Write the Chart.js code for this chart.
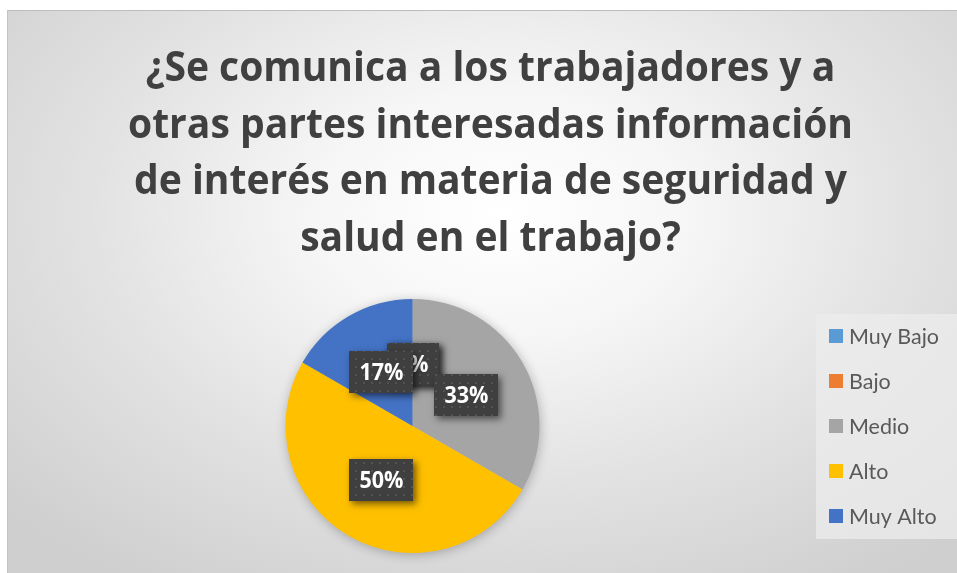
<!DOCTYPE html>
<html>
<head>
<meta charset="utf-8">
<script src="https://cdn.jsdelivr.net/npm/chart.js@4/dist/chart.umd.min.js"></script>
<style>
  html, body { margin: 0; padding: 0; background: #ffffff; width: 957px; height: 573px; overflow: hidden; }
  #frame {
    position: absolute; left: 7px; top: 10px; width: 950px; height: 563px;
    border-left: 1px solid #c4c4c4; border-top: 1px solid #bdbdbd; box-sizing: border-box;
    background: radial-gradient(ellipse 70% 78% at 52% 36%, #ffffff 0%, #f6f6f6 28%, #e2e2e2 62%, #cfcfcf 100%);
  }
  canvas { position: absolute; left: 0; top: 0; }
</style>
</head>
<body>
<div id="frame"><canvas id="c" width="950" height="563"></canvas></div>
<script>
const categories = ['Muy Bajo', 'Bajo', 'Medio', 'Alto', 'Muy Alto'];
const values = [0, 0, 2, 3, 1];
const sliceColors = ['#5B9BD5', '#ED7D31', '#A5A5A5', '#FFC000', '#4472C4'];
const titleLines = [
  '¿Se comunica a los trabajadores y a',
  'otras partes interesadas información',
  'de interés en materia de seguridad y',
  'salud en el trabajo?'
];

const BOLD_FAMILY = '"Open Sans", Lato, "Noto Sans", sans-serif';
const REG_FAMILY = 'Lato, "Open Sans", "Noto Sans", sans-serif';

function drawScaledText(ctx, text, x, y, sx, align) {
  ctx.save();
  ctx.translate(x, y);
  ctx.scale(sx, 1);
  ctx.textAlign = align;
  ctx.fillText(text, 0, 0);
  ctx.restore();
}

function makeDotPattern(ctx) {
  const p = document.createElement('canvas');
  p.width = 8; p.height = 8;
  const g = p.getContext('2d');
  g.fillStyle = '#3f3f3f';
  g.fillRect(0, 0, 8, 8);
  g.fillStyle = '#525252';
  g.fillRect(3, 3, 2, 2);
  return ctx.createPattern(p, 'repeat');
}

const titlePlugin = {
  id: 'titleDraw',
  afterDraw(chart) {
    const ctx = chart.ctx;
    ctx.save();
    ctx.fillStyle = '#404040';
    ctx.font = 'bold 42px ' + BOLD_FAMILY;
    ctx.textBaseline = 'alphabetic';
    const ref = ctx.measureText(titleLines[1]).width;
    const sx = 725 / ref;
    const baselines = [70, 127, 183, 240];
    titleLines.forEach((line, i) => drawScaledText(ctx, line, 482.5, baselines[i], sx, 'center'));
    ctx.restore();
  }
};

const pieShadow = {
  id: 'pieShadow',
  beforeDatasetsDraw(chart) {
    const arc = chart.getDatasetMeta(0).data[0];
    if (!arc) return;
    const ctx = chart.ctx;
    ctx.save();
    ctx.shadowColor = 'rgba(0,0,0,0.28)';
    ctx.shadowBlur = 12;
    ctx.shadowOffsetX = 1;
    ctx.shadowOffsetY = 2;
    ctx.fillStyle = '#bdbdbd';
    ctx.beginPath();
    ctx.arc(arc.x, arc.y, arc.outerRadius - 0.5, 0, Math.PI * 2);
    ctx.fill();
    ctx.restore();
  }
};

const labelPlugin = {
  id: 'boxLabels',
  afterDatasetsDraw(chart) {
    const ctx = chart.ctx;
    const meta = chart.getDatasetMeta(0);
    const data = chart.data.datasets[0].data;
    const total = data.reduce((a, b) => a + b, 0);
    const pattern = makeDotPattern(ctx);
    ctx.save();
    ctx.font = 'bold 24px ' + BOLD_FAMILY;
    const sx = 44 / ctx.measureText('17%').width;
    meta.data.forEach((arc, i) => {
      const txt = Math.round(data[i] / total * 100) + '%';
      const mid = (arc.startAngle + arc.endAngle) / 2;
      const rr = arc.outerRadius * 0.49;
      const cx = arc.x + Math.cos(mid) * rr;
      const cy = arc.y + Math.sin(mid) * rr;
      const tw = ctx.measureText(txt).width * sx;
      const w = Math.round(tw + 20);
      const h = 42;
      const bx = Math.round(cx - w / 2), by = Math.round(cy - h / 2);
      ctx.save();
      ctx.shadowColor = 'rgba(0,0,0,0.55)';
      ctx.shadowBlur = 7;
      ctx.shadowOffsetX = 3;
      ctx.shadowOffsetY = 3;
      ctx.fillStyle = '#3f3f3f';
      ctx.fillRect(bx, by, w, h);
      ctx.restore();
      ctx.fillStyle = pattern;
      ctx.fillRect(bx, by, w, h);
      ctx.fillStyle = '#ffffff';
      ctx.textBaseline = 'middle';
      drawScaledText(ctx, txt, cx, cy + 1, sx, 'center');
    });
    ctx.restore();
  }
};

const legendPlugin = {
  id: 'customLegend',
  afterDraw(chart) {
    const ctx = chart.ctx;
    const labels = chart.data.labels;
    const cols = chart.data.datasets[0].backgroundColor;
    ctx.save();
    ctx.fillStyle = 'rgba(236,236,236,0.75)';
    ctx.fillRect(808, 303, 141, 225);
    ctx.font = '22px ' + REG_FAMILY;
    const sx = 90 / ctx.measureText('Muy Bajo').width;
    ctx.textBaseline = 'middle';
    labels.forEach((lab, i) => {
      const y = 325 + i * 45.1;
      ctx.fillStyle = cols[i];
      ctx.fillRect(821, Math.round(y - 7), 14, 14);
      ctx.fillStyle = '#595959';
      drawScaledText(ctx, lab, 841, y + 1, sx, 'left');
    });
    ctx.restore();
  }
};

new Chart(document.getElementById('c'), {
  type: 'pie',
  data: {
    labels: categories,
    datasets: [{
      data: values,
      backgroundColor: sliceColors,
      borderWidth: 0,
      hoverOffset: 0
    }]
  },
  options: {
    responsive: false,
    devicePixelRatio: 1,
    animation: false,
    layout: { padding: { left: 277.5, right: 418.5, top: 288, bottom: 21 } },
    plugins: {
      legend: { display: false },
      title: { display: false },
      tooltip: { enabled: false }
    }
  },
  plugins: [pieShadow, labelPlugin, legendPlugin, titlePlugin]
});
</script>
</body>
</html>
